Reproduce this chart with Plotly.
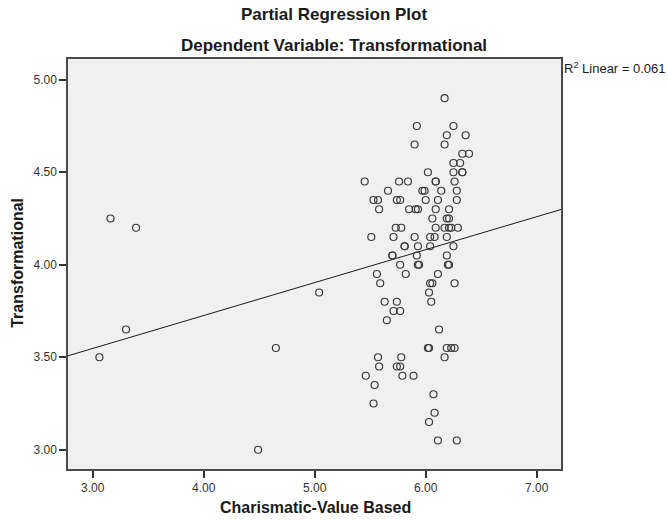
import plotly.graph_objects as go

# Observations: Charismatic-Value Based (x) vs Transformational (y)
cv_based = [
    3.16, 3.39, 3.30, 3.06, 4.65, 4.49, 5.04,
    6.17,
    5.92, 6.25,
    6.19, 6.36,
    5.90, 6.17,
    6.33, 6.39,
    6.25, 6.31,
    6.25, 6.33, 6.33, 6.02,
    5.45, 5.76, 5.84, 6.09, 6.09, 6.26,
    5.66, 5.97, 5.99, 6.14, 6.28,
    5.53, 5.57, 5.74, 5.77, 6.00, 6.11, 6.28,
    5.58, 5.85, 5.91, 5.93, 6.09, 6.21,
    6.06, 6.19, 6.21,
    5.73, 5.78, 6.09, 6.17, 6.21, 6.23, 6.29,
    5.51, 5.71, 5.90, 6.04, 6.08, 6.19,
    5.81, 5.81, 5.93, 6.04, 6.25,
    5.70, 5.70, 5.92, 6.19,
    5.77, 5.93, 5.94, 6.20, 6.21,
    5.56, 5.82, 6.11,
    5.59, 6.04, 6.06, 6.26,
    6.03,
    5.63, 5.74, 6.05,
    5.71, 5.77,
    5.65,
    6.12,
    6.02, 6.03, 6.19, 6.23, 6.26,
    5.57, 5.78, 6.17,
    5.58, 5.74, 5.77,
    5.46, 5.79, 5.89,
    5.54,
    6.07,
    5.53,
    6.08,
    6.03,
    6.11, 6.28,
]
transformational = [
    4.25, 4.20, 3.65, 3.50, 3.55, 3.00, 3.85,
    4.90,
    4.75, 4.75,
    4.70, 4.70,
    4.65, 4.65,
    4.60, 4.60,
    4.55, 4.55,
    4.50, 4.50, 4.50, 4.50,
    4.45, 4.45, 4.45, 4.45, 4.45, 4.45,
    4.40, 4.40, 4.40, 4.40, 4.40,
    4.35, 4.35, 4.35, 4.35, 4.35, 4.35, 4.35,
    4.30, 4.30, 4.30, 4.30, 4.30, 4.30,
    4.25, 4.25, 4.25,
    4.20, 4.20, 4.20, 4.20, 4.20, 4.20, 4.20,
    4.15, 4.15, 4.15, 4.15, 4.15, 4.15,
    4.10, 4.10, 4.10, 4.10, 4.10,
    4.05, 4.05, 4.05, 4.05,
    4.00, 4.00, 4.00, 4.00, 4.00,
    3.95, 3.95, 3.95,
    3.90, 3.90, 3.90, 3.90,
    3.85,
    3.80, 3.80, 3.80,
    3.75, 3.75,
    3.70,
    3.65,
    3.55, 3.55, 3.55, 3.55, 3.55,
    3.50, 3.50, 3.50,
    3.45, 3.45, 3.45,
    3.40, 3.40, 3.40,
    3.35,
    3.30,
    3.25,
    3.20,
    3.15,
    3.05, 3.05,
]

# Fitted linear trend (intercept, slope) and its R squared
fit_intercept = 3.0136
fit_slope = 0.178
r_squared = 0.061

x_range = [2.777, 7.219]
y_range = [2.896, 5.112]
x_ticks = [3, 4, 5, 6, 7]
y_ticks = [3.0, 3.5, 4.0, 4.5, 5.0]

title_font = "Liberation Sans"
text_color = "#1a1a1a"

fig = go.Figure()

fig.add_trace(go.Scatter(
    x=x_range,
    y=[fit_intercept + fit_slope * v for v in x_range],
    mode="lines",
    line=dict(color="#1a1a1a", width=1),
    hoverinfo="skip",
))

fig.add_trace(go.Scatter(
    x=cv_based,
    y=transformational,
    mode="markers",
    marker=dict(symbol="circle-open", size=7, color="#3a3a3a",
                line=dict(width=1.2, color="#3a3a3a")),
))

axis_common = dict(
    showline=True, mirror=True, linecolor="#4a4a4a", linewidth=1.5,
    ticks="outside", ticklen=7, tickwidth=1.5, tickcolor="#333333",
    showgrid=False, zeroline=False, tickformat=".2f",
    tickfont=dict(family=title_font, size=12, color="#333333"),
)

fig.update_xaxes(range=x_range, tickvals=x_ticks, **axis_common)
fig.update_yaxes(range=y_range, tickvals=y_ticks, **axis_common)

fig.update_layout(
    width=668, height=521,
    margin=dict(l=68, r=107, t=59, b=52),
    paper_bgcolor="white",
    plot_bgcolor="#F0F0F0",
    showlegend=False,
    annotations=[
        dict(text="<b>Partial Regression Plot</b>", xref="paper", yref="paper",
             x=0.54, y=1.108, xanchor="center", yanchor="middle", showarrow=False,
             font=dict(family=title_font, size=17, color=text_color)),
        dict(text="<b>Dependent Variable: Transformational</b>", xref="paper", yref="paper",
             x=0.54, y=1.032, xanchor="center", yanchor="middle", showarrow=False,
             font=dict(family=title_font, size=17, color=text_color)),
        dict(text="<b>Charismatic-Value Based</b>", xref="paper", yref="paper",
             x=0.5024, y=-0.093, xanchor="center", yanchor="middle", showarrow=False,
             font=dict(family=title_font, size=16, color=text_color)),
        dict(text="<b>Transformational</b>", xref="paper", yref="paper",
             x=-0.1026, y=0.504, xanchor="center", yanchor="middle", showarrow=False,
             textangle=-90,
             font=dict(family=title_font, size=16, color=text_color)),
        dict(text=f"R<sup>2</sup> Linear = {r_squared:.3f}", xref="paper", yref="paper",
             x=1.0, y=0.979, xanchor="left", yanchor="middle", showarrow=False,
             xshift=1,
             font=dict(family=title_font, size=13, color=text_color)),
    ],
)

fig.write_html("out.html")
